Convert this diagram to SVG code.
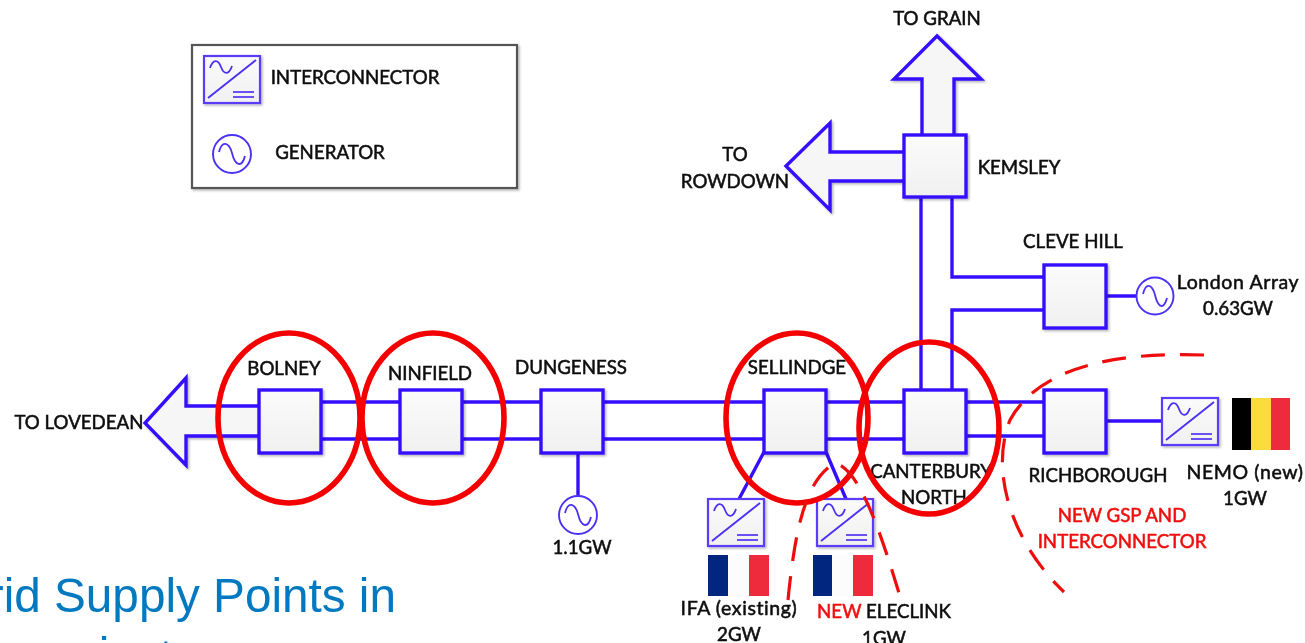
<svg xmlns="http://www.w3.org/2000/svg" width="1305" height="643" viewBox="0 0 1305 643">
<defs>
<linearGradient id="g" x1="0" y1="0" x2="0" y2="1"><stop offset="0" stop-color="#fbfbfb"/><stop offset="1" stop-color="#f0f0f0"/></linearGradient>
<filter id="soft" x="-5%" y="-5%" width="110%" height="110%"><feGaussianBlur stdDeviation="0.55"/></filter>
<filter id="sh" x="-10%" y="-10%" width="125%" height="125%"><feDropShadow dx="1.5" dy="1.5" stdDeviation="1.2" flood-color="#000" flood-opacity=".3"/></filter>
<symbol id="inv" viewBox="0 0 56 47" overflow="visible">
<rect x="0" y="0" width="56" height="47" fill="url(#g)" stroke="#5a3cf8" stroke-width="2.2" filter="url(#sh)"/>
<path d="M4,42 L52,4" fill="none" stroke="#4a30f5" stroke-width="1.9"/>
<path d="M6,12 C9,3 14,3 17,11 C20,19 25,19 28,10" fill="none" stroke="#4a30f5" stroke-width="1.8"/>
<path d="M29,36 H50 M29,41 H50" fill="none" stroke="#6a50f5" stroke-width="2.2"/>
</symbol>
</defs>
<style>
.box{fill:url(#g);stroke:#3410ff;stroke-width:3.4;filter:url(#sh)}
.ln{fill:none;stroke:#3410ff;stroke-width:3.4}
.arrow{fill:#f6f6f6;stroke:#3410ff;stroke-width:3.4;stroke-linejoin:miter;filter:url(#sh)}
.gen{fill:#fff;stroke:#4a30f5;stroke-width:1.9}
.wave{fill:none;stroke:#4a30f5;stroke-width:1.8}
.ring{fill:none;stroke:#f40000;stroke-width:5.6}
.dash{fill:none;stroke:#ee1010;stroke-width:3.2;stroke-dasharray:24 15}
text{font-family:Lato,"Liberation Sans",sans-serif;font-size:18.7px;fill:#111;stroke:#111;stroke-width:.55;text-anchor:middle}
.low{font-size:19.5px;letter-spacing:.6px}
.red{fill:#f01010;stroke:#f01010}
.big{font-family:"Liberation Sans",Arial,sans-serif;font-size:47.7px;fill:#0079c1;stroke:none;text-anchor:end}
.bg{font-family:"Liberation Sans",Arial,sans-serif;font-size:47.7px;fill:#0079c1;stroke:none;text-anchor:middle}
</style>
<rect width="1305" height="643" fill="#fff"/>
<g filter="url(#soft)">
<g id="legend">
<rect x="192" y="45" width="325" height="143" fill="#fff" stroke="#555" stroke-width="2.2" filter="url(#sh)"/>
<use href="#inv" x="204" y="56" width="56" height="47"/>
<circle class="gen" cx="232" cy="154" r="19"/>
<path class="wave" d="M219,152 C222,140 229,142 232,153 C235,166 242,168 245,156"/>
<text x="355" y="84">INTERCONNECTOR</text>
<text x="330" y="159">GENERATOR</text>
</g>
<g id="connectors">
<path class="ln" d="M321,402 H400 M321,439 H400 M462,402 H541 M462,439 H541 M603,402 H764 M603,439 H764 M826,402 H904 M826,439 H904 M966,402 H1044 M966,436 H1044"/>
<path class="ln" d="M921,197 V390 M952,197 V277 H1044 M1044,310 H952 V390"/>
<path class="ln" d="M1106,296 H1137 M578,452 V496 M1106,421 H1162 M764,452 L739,499 M826,452 L846,499"/>
</g>
<g id="arrow-lovedean"><path class="arrow" d="M259,406 H186 V378 L145,423 L186,465 V436 H259"/></g>
<g id="arrow-grain"><path class="arrow" d="M922,135 V79 H894 L937,36 L981,79 H954 V135"/></g>
<g id="arrow-rowdown"><path class="arrow" d="M904,152 H830 V123 L786,166 L830,210 V181 H904"/></g>
<g id="bolney"><rect class="box" x="259" y="390" width="62" height="63"/><text x="284" y="375">BOLNEY</text></g>
<g id="ninfield"><rect class="box" x="400" y="390" width="62" height="63"/><text x="430" y="380">NINFIELD</text></g>
<g id="dungeness"><rect class="box" x="541" y="390" width="62" height="63"/><text x="571" y="374">DUNGENESS</text></g>
<g id="sellindge"><rect class="box" x="764" y="390" width="62" height="63"/><text x="797" y="374">SELLINDGE</text></g>
<g id="canterbury"><rect class="box" x="904" y="390" width="62" height="63"/><text x="931" y="478">CANTERBURY</text><text x="934" y="504">NORTH</text></g>
<g id="richborough"><rect class="box" x="1044" y="390" width="62" height="63"/><text x="1098" y="482">RICHBOROUGH</text></g>
<g id="kemsley"><rect class="box" x="904" y="135" width="62" height="62"/><text x="1019" y="174">KEMSLEY</text></g>
<g id="cleve-hill"><rect class="box" x="1044" y="265" width="62" height="63"/><text x="1073" y="248">CLEVE HILL</text></g>
<g id="to-labels">
<text x="937" y="25">TO GRAIN</text>
<text x="735" y="161">TO</text>
<text x="735" y="188">ROWDOWN</text>
<text x="79" y="429">TO LOVEDEAN</text>
</g>
<g id="london-array">
<circle class="gen" cx="1155" cy="296" r="18.5"/>
<path class="wave" d="M1143,294 C1146,282 1152,284 1155,295 C1158,308 1164,310 1167,298"/>
<text class="low" x="1238" y="289">London Array</text><text x="1238" y="315">0.63GW</text>
</g>
<g id="dungeness-gen">
<circle class="gen" cx="578" cy="515" r="19"/>
<path class="wave" d="M565,513 C568,501 575,503 578,514 C581,527 588,529 591,517"/>
<text x="582" y="554">1.1GW</text>
</g>
<g id="ifa">
<use href="#inv" x="708" y="499" width="56" height="47"/>
<rect x="708" y="555" width="20" height="41" fill="#00267f"/><rect x="728" y="555" width="21" height="41" fill="#fcfcfc"/><rect x="749" y="555" width="20" height="41" fill="#ee2a3c"/>
<text class="low" x="739" y="615">IFA (existing)</text><text x="739" y="641">2GW</text>
</g>
<g id="eleclink">
<use href="#inv" x="817" y="499" width="56" height="47"/>
<rect x="813" y="555" width="19" height="41" fill="#00267f"/><rect x="832" y="555" width="21" height="41" fill="#fcfcfc"/><rect x="853" y="555" width="20" height="41" fill="#ee2a3c"/>
<text x="884" y="618"><tspan class="red">NEW</tspan> ELECLINK</text><text x="884" y="645">1GW</text>
</g>
<g id="nemo">
<use href="#inv" x="1162" y="398" width="56" height="47"/>
<rect x="1232" y="398" width="19" height="52" fill="#000"/><rect x="1251" y="398" width="20" height="52" fill="#fbdc3c"/><rect x="1271" y="398" width="19" height="52" fill="#ee2a3c"/>
<text class="low" x="1245" y="479">NEMO (new)</text><text x="1245" y="505">1GW</text>
</g>
<g id="new-gsp"><text class="red" x="1122" y="522">NEW GSP AND</text><text class="red" x="1122" y="548">INTERCONNECTOR</text></g>
<g id="rings">
<ellipse class="ring" cx="289" cy="418" rx="71" ry="85"/>
<ellipse class="ring" cx="433" cy="418" rx="71" ry="85"/>
<ellipse class="ring" cx="797" cy="418" rx="71" ry="85"/>
<ellipse class="ring" cx="929" cy="428" rx="70" ry="86"/>
</g>
<g id="dashes">
<path class="dash" d="M1204,355 C1120,352 1040,365 1010,420 C990,470 1010,540 1064,592"/>
<path class="dash" d="M788,600 C795,530 805,480 835,463 C860,470 880,530 902,603"/>
</g>
</g>
<text class="big" x="396" y="612">Grid Supply Points in</text>
<text class="bg" x="104" y="671">i</text>
<text class="bg" x="166" y="673">t</text>
</svg>
